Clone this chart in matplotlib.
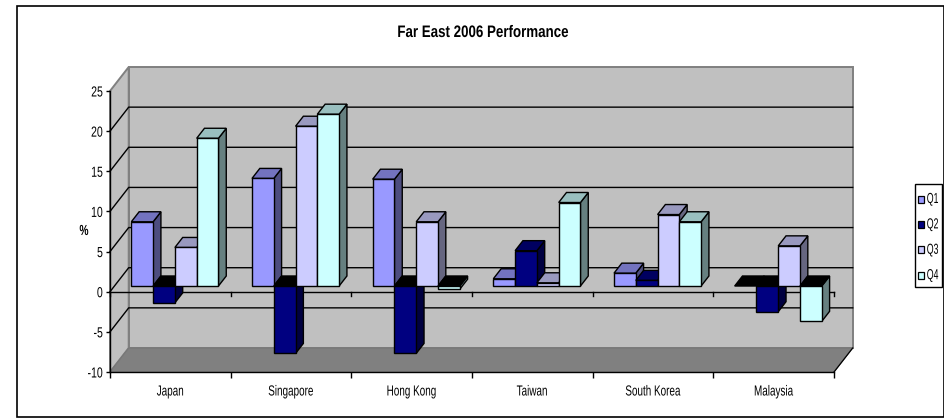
import matplotlib
matplotlib.use("Agg")
import matplotlib.pyplot as plt
from matplotlib.patches import Polygon, Rectangle
from matplotlib.patheffects import AbstractPathEffect
from matplotlib.transforms import Affine2D
import numpy as np

countries = ["Japan", "Singapore", "Hong Kong", "Taiwan", "South Korea", "Malaysia"]
quarters = ["Q1", "Q2", "Q3", "Q4"]
q1 = [8.0, 13.4, 13.3, 0.9, 1.6, 0.0]
q2 = [-2.1, -8.4, -8.4, 4.4, 0.7, -3.2]
q3 = [4.8, 19.9, 8.0, 0.4, 8.9, 5.0]
q4 = [18.4, 21.4, -0.4, 10.4, 8.0, -4.4]
series = [q1, q2, q3, q4]
colors = ["#9999FF", "#000080", "#CCCCFF", "#CCFFFF"]
value_ticks = list(range(-10, 30, 5))

W, H = 945, 418
plt.rcParams["font.family"] = ["Liberation Sans", "DejaVu Sans"]
plt.rcParams["axes.unicode_minus"] = False
LABEL_PT = 10.5


class Narrow(AbstractPathEffect):
    """Squeeze glyph outlines horizontally about the text's anchor side."""

    def __init__(self, factor, anchor="center"):
        super().__init__()
        self.factor, self.anchor = factor, anchor

    def draw_path(self, renderer, gc, tpath, affine, rgbFace=None):
        box = tpath.get_extents()
        pivot = {"left": box.x0, "center": (box.x0 + box.x1) / 2, "right": box.x1}[self.anchor]
        squeeze = Affine2D().translate(-pivot, 0).scale(self.factor, 1).translate(pivot, 0)
        renderer.draw_path(gc, tpath, squeeze + affine, rgbFace)


fig = plt.figure(figsize=(W / 100, H / 100), dpi=100, facecolor="white")

# Front plane of the 3-D box, in pixels from the figure's edges
left, right, top, bottom = 110.0, 834.0, 91.0, 372.0
ax = fig.add_axes([left / W, 1 - bottom / H, (right - left) / W, (bottom - top) / H])
ax.set_xlim(0, len(countries))
ax.set_ylim(-10, 25)
ax.patch.set_visible(False)

# Depth of the box expressed in data units
depth_x = 18.7 * len(countries) / (right - left)
depth_y = 24.0 * 35 / (bottom - top)


def project(x, y, d):
    return (x + d * depth_x, y + d * depth_y)


def poly(points, face, edge="none", lw=0.0, z=1.0):
    ax.add_patch(Polygon(points, closed=True, facecolor=face, edgecolor=edge,
                         linewidth=lw, zorder=z, clip_on=False, joinstyle="miter"))


n = len(countries)
ymin, ymax = -10, 25
# Walls and floor
poly([project(0, ymin, 1), project(n, ymin, 1), project(n, ymax, 1), project(0, ymax, 1)],
     "#C0C0C0", "#808080", 1.4, 1.0)
poly([project(0, ymin, 0), project(0, ymin, 1), project(0, ymax, 1), project(0, ymax, 0)],
     "#C0C0C0", "#808080", 1.4, 1.0)
poly([project(0, ymin, 0), project(n, ymin, 0), project(n, ymin, 1), project(0, ymin, 1)],
     "#808080", "#777777", 0.8, 1.1)
ax.plot(*zip(project(n, ymin, 0), project(n, ymin, 1)), color="black", lw=0.9, zorder=1.2, clip_on=False)

# Gridlines along the left wall and the back wall
for v in value_ticks[1:-1]:
    pts = [project(0, v, 0), project(0, v, 1), project(n, v, 1)]
    ax.plot(*zip(*pts), color="black", lw=1.0, zorder=1.3, clip_on=False, solid_joinstyle="miter")

# Zero line on the front plane, with its category ticks
ax.plot([0, n], [0, 0], color="black", lw=1.0, zorder=2, clip_on=False)
for i in range(n + 1):
    ax.plot([i, i], [0, -0.5], color="black", lw=1.0, zorder=2, clip_on=False)

# Bars, drawn left to right so each one covers its neighbour's side face
bar_w, gap = 0.1805, 0.14
d0, d1 = 0.2375, 0.655
z = 3.0


def shade(color, f):
    rgb = np.array(matplotlib.colors.to_rgb(color)) * f
    return tuple(rgb)


for i in range(n):
    for j, vals in enumerate(series):
        v = vals[i]
        x0 = i + gap + j * bar_w
        x1 = x0 + bar_w
        c = colors[j]
        hi = max(v, 0)
        lo = min(v, 0)
        ec, lw = "black", 1.0
        # right side face
        poly([project(x1, lo, d0), project(x1, lo, d1), project(x1, hi, d1), project(x1, hi, d0)],
             shade(c, 0.5), ec, lw, z)
        # top face: black when the bar hangs below zero
        top_face = "black" if v <= 0 else shade(c, 0.75)
        poly([project(x0, hi, d0), project(x1, hi, d0), project(x1, hi, d1), project(x0, hi, d1)],
             top_face, ec, lw, z + 0.01)
        # front face
        if v != 0:
            poly([project(x0, lo, d0), project(x1, lo, d0), project(x1, hi, d0), project(x0, hi, d0)],
                 c, ec, lw, z + 0.02)
        z += 0.1

# Axes furniture
for s in ("top", "right"):
    ax.spines[s].set_visible(False)
ax.spines["left"].set_linewidth(1.0)
ax.spines["bottom"].set_linewidth(1.0)
ax.spines["left"].set_zorder(2.5)
ax.spines["bottom"].set_zorder(2.5)
ax.set_yticks(value_ticks)
ax.set_xticks(range(n + 1))
ax.set_xticklabels([])
ax.set_xticks(np.arange(n) + 0.5, labels=countries, minor=True)
ax.tick_params(axis="x", which="major", length=4, width=1.0)
ax.tick_params(axis="x", which="minor", length=0, pad=9, labelsize=LABEL_PT)
ax.tick_params(axis="y", length=3, width=1.0, pad=2, labelsize=LABEL_PT)
for t in ax.get_yticklabels():
    t.set_path_effects([Narrow(0.72, "right")])
for t in ax.get_xticklabels(minor=True):
    t.set_path_effects([Narrow(0.68, "center")])

fig.text(84 / W, 1 - 231 / H, "%", ha="center", va="center", fontsize=LABEL_PT, fontweight="bold",
         path_effects=[Narrow(0.7, "center")])
fig.text(482.5 / W, 1 - 32.5 / H, "Far East 2006 Performance", ha="center", va="center",
         fontsize=12, fontweight="bold", path_effects=[Narrow(0.8, "center")])

# Outer chart frame
fig.add_artist(Rectangle((17 / W, 1 - 416.5 / H), (944 - 17) / W, (416.5 - 6) / H,
                         transform=fig.transFigure, fill=False, edgecolor="black", linewidth=1.2))

# Legend box with swatches and labels placed on a fixed pitch
fig.add_artist(Rectangle((915 / W, 1 - 286.5 / H), 26.7 / W, 102.5 / H, transform=fig.transFigure,
                         facecolor="white", edgecolor="black", linewidth=1.0))
for k, (label, c) in enumerate(zip(quarters, colors)):
    cy = 199 + k * 25.4
    fig.add_artist(Rectangle((918.3 / W, 1 - (cy + 3.5) / H), 5.5 / W, 7 / H, transform=fig.transFigure,
                             facecolor=c, edgecolor="black", linewidth=0.9))
    fig.text(926.5 / W, 1 - cy / H, label, ha="left", va="center", fontsize=LABEL_PT,
             path_effects=[Narrow(0.6, "left")])

fig.savefig("out.png", dpi=100)
